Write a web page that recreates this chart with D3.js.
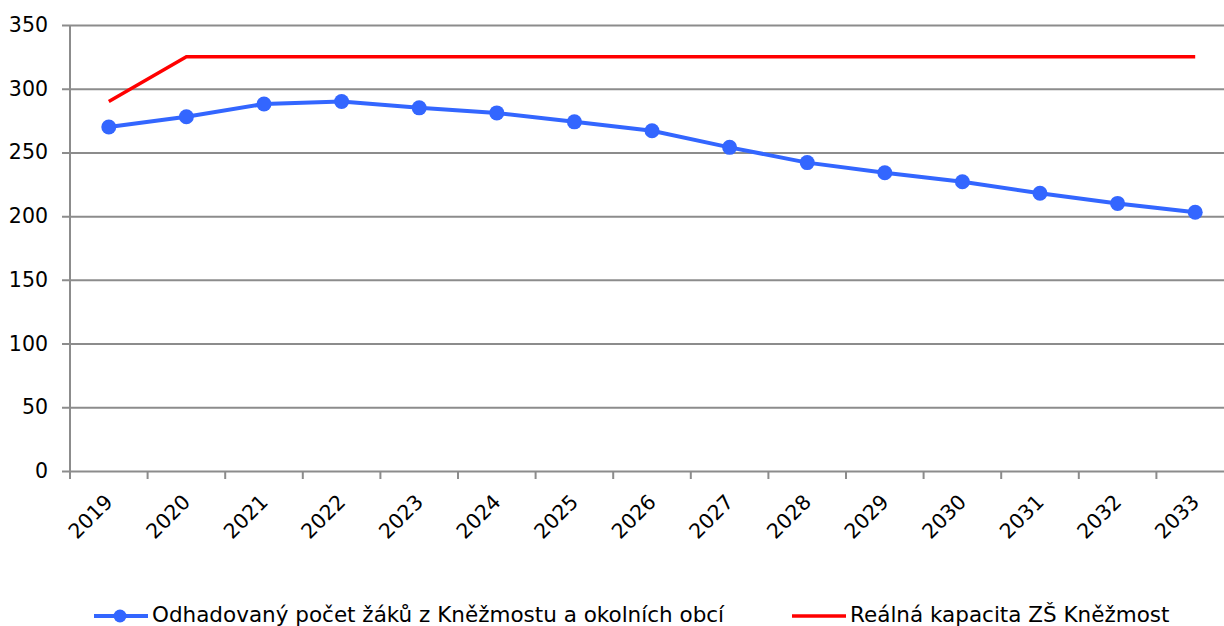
<!DOCTYPE html>
<html>
<head>
<meta charset="utf-8">
<script src="https://cdn.jsdelivr.net/npm/d3@7"></script>
<style>
  html, body { margin: 0; padding: 0; background: #fff; }
  svg { display: block; font-family: "DejaVu Sans", Verdana, sans-serif; }
</style>
</head>
<body>
<div id="chart"></div>
<script>
// data
const years = ['2019', '2020', '2021', '2022', '2023', '2024', '2025', '2026',
               '2027', '2028', '2029', '2030', '2031', '2032', '2033'];
const students = [270, 278, 288, 290, 285, 281, 274, 267, 254, 242, 234, 227, 218, 210, 203];
const capacity = [290, 325, 325, 325, 325, 325, 325, 325, 325, 325, 325, 325, 325, 325, 325];
const yTicks = [0, 50, 100, 150, 200, 250, 300, 350];
const seriesNames = ['Odhadovaný počet žáků z Kněžmostu a okolních obcí', 'Reálná kapacita ZŠ Kněžmost'];

const width = 1224, height = 626;
const plot = { left: 70, right: 1234, top: 25, bottom: 471 };
const blue = '#3366ff', red = '#ff0000', grid = '#8c8c8c';

const svg = d3.select('#chart').append('svg')
    .attr('width', width)
    .attr('height', height);

const x = d3.scaleBand().domain(years).range([plot.left, plot.right]);
const y = d3.scaleLinear().domain([0, 350]).range([plot.bottom, plot.top]);

// gridlines + y labels
const yAxis = svg.append('g')
    .attr('transform', `translate(${plot.left},0)`)
    .call(d3.axisLeft(y).tickValues(yTicks).tickSize(-(plot.right - plot.left)).tickSizeOuter(0).tickPadding(22))
    .attr('font-family', null)
    .attr('font-size', null);
yAxis.select('.domain').remove();
yAxis.selectAll('.tick line')
    .attr('x1', -8)
    .attr('stroke', grid)
    .attr('stroke-width', 2);
yAxis.selectAll('.tick text')
    .attr('fill', '#000')
    .style('font-size', '20.5px');

// vertical axis line
svg.append('line')
    .attr('x1', plot.left).attr('x2', plot.left)
    .attr('y1', plot.top).attr('y2', plot.bottom)
    .attr('stroke', grid).attr('stroke-width', 2);

// x axis with ticks on category boundaries
const bounds = years.map(d => x(d)).concat([plot.right]);
svg.append('g').selectAll('line')
    .data(bounds)
    .join('line')
    .attr('x1', d => d).attr('x2', d => d)
    .attr('y1', plot.bottom).attr('y2', plot.bottom + 8)
    .attr('stroke', grid).attr('stroke-width', 2);

svg.append('g').selectAll('text')
    .data(years)
    .join('text')
    .attr('transform', d => `translate(${x(d) + x.bandwidth() / 2 - 5},${plot.bottom + 22}) rotate(-45)`)
    .attr('text-anchor', 'end')
    .attr('dy', '0.7em')
    .style('font-size', '20.5px')
    .text(d => d);

const cx = d => x(d) + x.bandwidth() / 2;

// capacity line
svg.append('path')
    .datum(capacity)
    .attr('fill', 'none')
    .attr('stroke', red)
    .attr('stroke-width', 3.5)
    .attr('d', d3.line().x((d, i) => cx(years[i])).y(d => y(d)));

// students line + markers
svg.append('path')
    .datum(students)
    .attr('fill', 'none')
    .attr('stroke', blue)
    .attr('stroke-width', 4)
    .attr('d', d3.line().x((d, i) => cx(years[i])).y(d => y(d)));

svg.append('g').selectAll('circle')
    .data(students)
    .join('circle')
    .attr('cx', (d, i) => cx(years[i]))
    .attr('cy', d => y(d))
    .attr('r', 7.5)
    .attr('fill', blue);

// legend
const legend = [
    { name: seriesNames[0], color: blue, x: 94, marker: true },
    { name: seriesNames[1], color: red, x: 792, marker: false }
];
const ly = 616;
const lg = svg.append('g').selectAll('g').data(legend).join('g');
lg.append('line')
    .attr('x1', d => d.x).attr('x2', d => d.x + 54)
    .attr('y1', ly).attr('y2', ly)
    .attr('stroke', d => d.color)
    .attr('stroke-width', d => d.marker ? 4 : 3.5);
lg.filter(d => d.marker).append('circle')
    .attr('cx', d => d.x + 26).attr('cy', ly).attr('r', 6.5)
    .attr('fill', d => d.color);
lg.append('text')
    .attr('x', d => d.x + 58)
    .attr('y', ly + 6)
    .style('font-size', '21.5px')
    .text(d => d.name);
</script>
</body>
</html>
